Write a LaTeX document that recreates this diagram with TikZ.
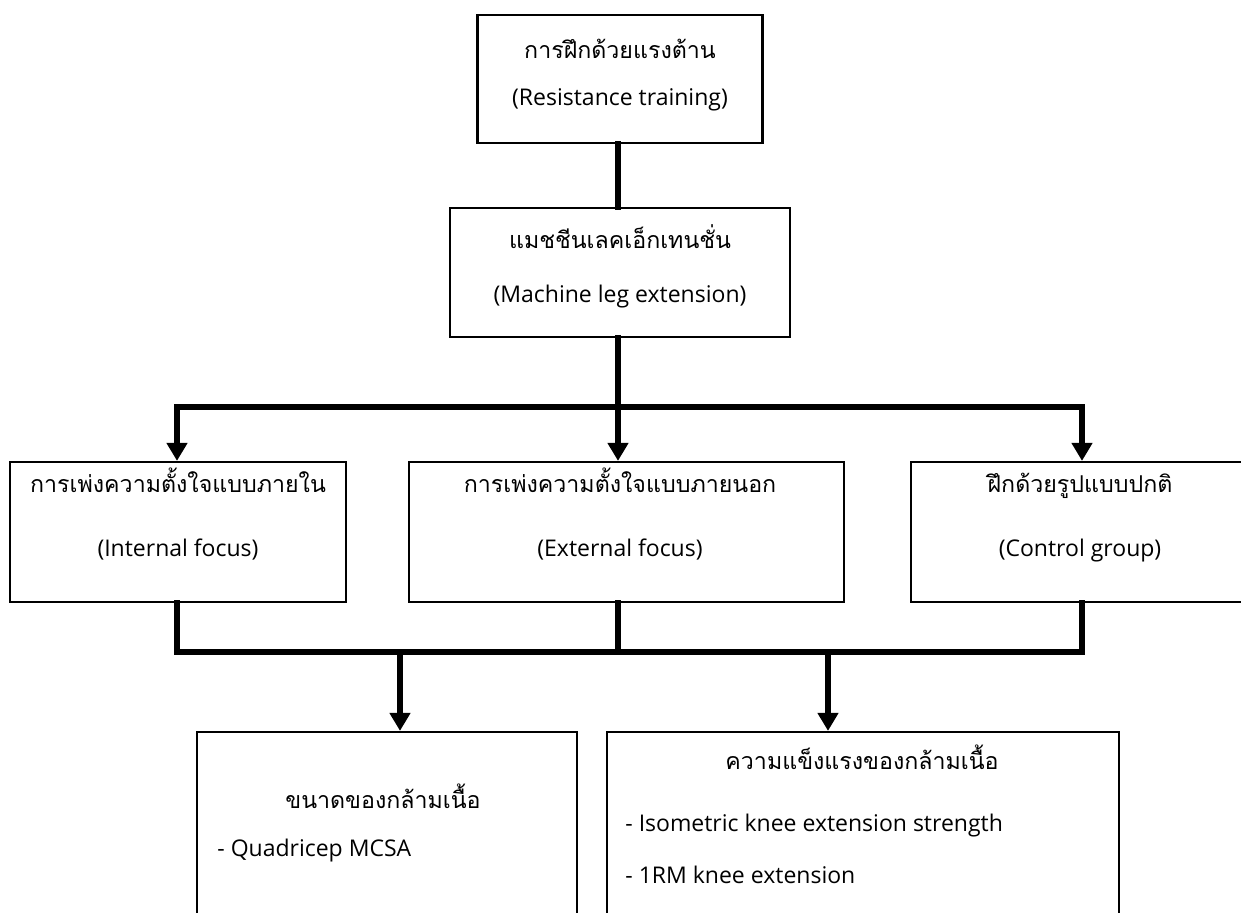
\documentclass[tikz,border=0pt]{standalone}
\usepackage{fontspec}
\setmainfont{Open Sans}
\newfontfamily\thaifont[Script=Thai]{Loma}
\usetikzlibrary{arrows.meta}
\tikzset{
  box/.style={draw=black, line width=1.1pt, rectangle, inner sep=0pt},
  txt/.style={font=\fontsize{11.5pt}{13pt}\selectfont, inner sep=0pt, text height=8.5pt, text depth=2.5pt, anchor=center},
  thai/.style={font=\thaifont\fontsize{11.6pt}{13pt}\selectfont, inner sep=0pt, text height=8pt, text depth=2pt, anchor=center},
  conn/.style={line width=3pt, line cap=rect},
  arr/.style={line width=2.8pt, -{Triangle[width=10pt,length=9pt]}}
}
\begin{document}
\begin{tikzpicture}[x=0.5pt,y=-0.5pt]
\useasboundingbox (0,0) rectangle (1241,913);
% boxes
\node[box, minimum width=142.5pt, minimum height=64pt] (b1) at (620,79) {};
\node[box, minimum width=170pt, minimum height=64.5pt] (b2) at (620,272.5) {};
\node[box, minimum width=168pt, minimum height=70pt] (b3) at (178,532) {};
\node[box, minimum width=217.5pt, minimum height=70pt] (b4) at (626.5,532) {};
\node[box, minimum width=174.5pt, minimum height=70pt] (b5) at (1085.5,532) {};
\node[box, minimum width=190pt, minimum height=134pt] (b6) at (387,866) {};
\node[box, minimum width=256pt, minimum height=134pt] (b7) at (863,866) {};
% texts
\node[thai] (t1a) at (620,53) {การฝึกด้วยแรงต้าน};
\node[txt] (t1b) at (620,100) {(Resistance training)};
\node[thai] (t2a) at (620,243) {แมชชีนเลคเอ็กเทนชั่น};
\node[txt] (t2b) at (620,297) {(Machine leg extension)};
\node[thai] (t3a) at (178,487) {การเพ่งความตั้งใจแบบภายใน};
\node[txt] (t3b) at (178,551) {(Internal focus)};
\node[thai] (t4a) at (620,487) {การเพ่งความตั้งใจแบบภายนอก};
\node[txt] (t4b) at (620,551) {(External focus)};
\node[thai] (t5a) at (1080,487) {ฝึกด้วยรูปแบบปกติ};
\node[txt] (t5b) at (1080,551) {(Control group)};
\node[thai] (t6a) at (383,802) {ขนาดของกล้ามเนื้อ};
\node[txt, anchor=west] (t6b) at (217,850) {- Quadricep MCSA};
\node[thai] (t7a) at (862,763) {ความแข็งแรงของกล้ามเนื้อ};
\node[txt, anchor=west] (t7b) at (625,825) {- Isometric knee extension strength};
\node[txt, anchor=west] (t7c) at (625,877) {- 1RM knee extension};
% bus coordinates
\coordinate (h1L) at (177,407);
\coordinate (h1M) at (618,407);
\coordinate (h1R) at (1082,407);
\coordinate (h2L) at (177,652);
\coordinate (h2M) at (618,652);
\coordinate (h2R) at (1082,652);
\coordinate (d1) at (400,652);
\coordinate (d2) at (828,652);
% connectors
\draw[conn] (b1.south -| h1M) -- (b2.north -| h1M);
\draw[conn] (b2.south -| h1M) -- (h1M);
\draw[conn] (h1L) -- (h1R);
\draw[arr] (h1L) -- (b3.north -| h1L);
\draw[arr] (h1M) -- (b4.north -| h1M);
\draw[arr] (h1R) -- (b5.north -| h1R);
\draw[conn] (b3.south -| h2L) -- (h2L) -- (h2R) -- (b5.south -| h2R);
\draw[conn] (b4.south -| h2M) -- (h2M);
\draw[arr] (d1) -- (b6.north -| d1);
\draw[arr] (d2) -- (b7.north -| d2);
\end{tikzpicture}
\end{document}
